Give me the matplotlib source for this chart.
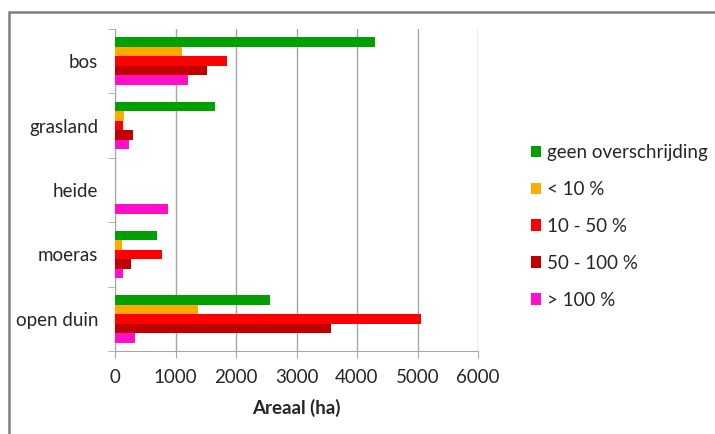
import numpy as np
import matplotlib
matplotlib.use('Agg')
import matplotlib.pyplot as plt
from matplotlib.patches import Rectangle

plt.rcParams['font.family'] = ['Lato', 'DejaVu Sans']

# categorieen en arealen (ha) per overschrijdingsklasse
categories = ['bos', 'grasland', 'heide', 'moeras', 'open duin']
classes = ['geen overschrijding', '< 10 %', '10 - 50 %', '50 - 100 %', '> 100 %']
geen = [4300, 1650, 0, 690, 2565]
lt10 = [1100, 150, 0, 120, 1375]
p10_50 = [1855, 125, 0, 770, 5050]
p50_100 = [1520, 300, 0, 265, 3570]
gt100 = [1210, 235, 880, 140, 330]
series = [geen, lt10, p10_50, p50_100, gt100]
colors = ['#00A000', '#FFAA00', '#FF0000', '#C00000', '#FF10C8']
xticks = [0, 1000, 2000, 3000, 4000, 5000, 6000]

W, H = 715, 434
fig = plt.figure(figsize=(W / 100, H / 100), dpi=100)
ax = fig.add_axes([115 / W, 1 - 351 / H, 363 / W, 322 / H])

y = np.arange(len(categories))
bh = 0.148
for i, (vals, c) in enumerate(zip(series, colors)):
    ax.barh(y + (i - 2) * bh, vals, height=bh, color=c, label=classes[i], zorder=3)

ax.set_xlim(0, 6000)
ax.set_ylim(len(categories) - 0.5, -0.5)
ax.set_xticks(xticks)
ax.set_xticklabels([str(t) for t in xticks], fontsize=13.5, color='#262626')
ax.set_yticks(y)
ax.set_yticklabels(categories, fontsize=13.5, color='#262626')
ax.set_yticks(np.arange(len(categories) + 1) - 0.5, minor=True)
ax.tick_params(axis='y', which='major', length=0, pad=12)
ax.tick_params(axis='y', which='minor', length=5, color='#a6a6a6', direction='out')
ax.tick_params(axis='x', length=5, color='#a6a6a6', direction='out', pad=8)
ax.grid(axis='x', color='#a6a6a6', linewidth=1, zorder=0)
for s in ['top', 'right']:
    ax.spines[s].set_visible(False)
ax.spines['left'].set_color('#a6a6a6')
ax.spines['bottom'].set_color('#a6a6a6')
ax.set_xlabel('Areaal (ha)', fontsize=13.5, fontweight='bold', color='#262626', labelpad=9)

ax.legend(loc='upper left', bbox_to_anchor=(531 / W, 1 - 144 / H), bbox_transform=fig.transFigure,
          frameon=False, fontsize=13.5, handlelength=0.55, handleheight=0.55,
          handletextpad=0.3, labelspacing=1.06, borderpad=0, borderaxespad=0,
          labelcolor='#262626')

# kader rond de figuur
fig.patches.append(Rectangle((9 / W, -0.1), 1.1, 1 - 12 / H + 0.1, transform=fig.transFigure,
                             fill=False, edgecolor='#808080', linewidth=1.8))

fig.savefig('out.png', dpi=100)
